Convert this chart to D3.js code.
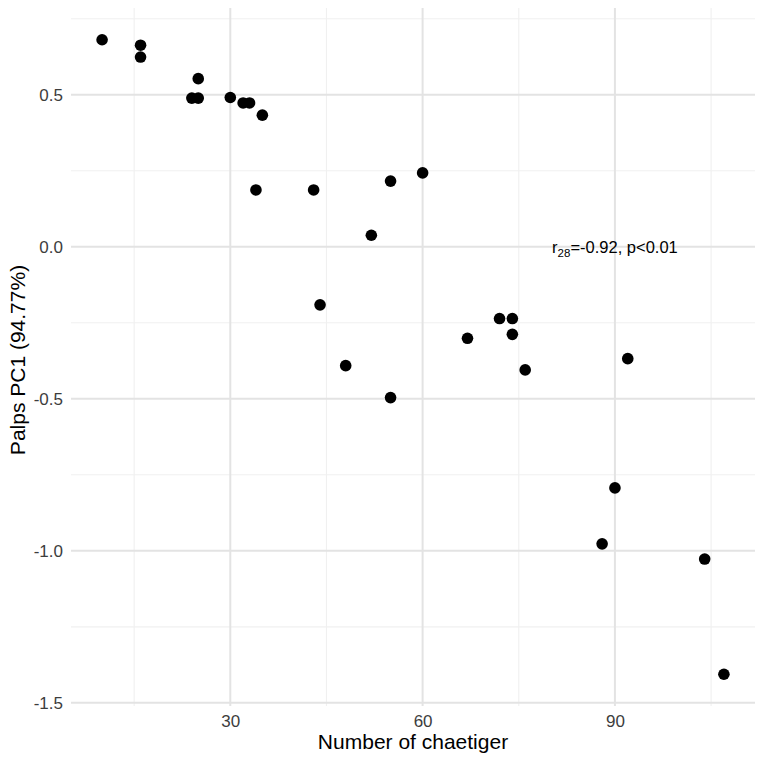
<!DOCTYPE html>
<html lang="en">
<head>
    <meta charset="UTF-8">
    <title>Palps PC1 vs chaetiger</title>
    <script src="https://cdn.jsdelivr.net/npm/d3@7"></script>
    <style>
        body { margin: 0; background: white; }
        svg { display: block; font-family: "Liberation Sans", Arial, sans-serif; }
    </style>
</head>
<body>
    <svg id="chart" width="763" height="763"></svg>
    <script>
        // chaetiger counts and palps PC1 scores
        const chaetiger = [10, 16, 16, 25, 24, 25, 30, 32, 33, 35, 34, 43, 55, 60, 52,
            44, 67, 48, 55, 72, 74, 74, 76, 92, 90, 88, 104, 107];
        const palpsPC1 = [0.681, 0.663, 0.624, 0.553, 0.489, 0.489, 0.491, 0.473, 0.473, 0.433, 0.187, 0.187, 0.216, 0.243, 0.038,
            -0.191, -0.301, -0.391, -0.496, -0.236, -0.236, -0.288, -0.405, -0.368, -0.793, -0.977, -1.027, -1.406];
        const xTicks = [30, 60, 90];
        const xMinor = [15, 45, 75, 105];
        const yTicks = [-1.5, -1.0, -0.5, 0.0, 0.5];
        const yMinor = [-1.25, -0.75, -0.25, 0.25, 0.75];

        const points = chaetiger.map((d, i) => ({ x: d, y: palpsPC1[i] }));

        const svg = d3.select("#chart");
        const panel = { left: 71, right: 755, top: 8, bottom: 706 };

        // ggplot-style 5% expansion
        function expand(ext) {
            const pad = (ext[1] - ext[0]) * 0.05;
            return [ext[0] - pad, ext[1] + pad];
        }

        const x = d3.scaleLinear()
            .domain(expand(d3.extent(chaetiger)))
            .range([panel.left, panel.right]);
        const y = d3.scaleLinear()
            .domain(expand(d3.extent(palpsPC1)))
            .range([panel.bottom, panel.top]);

        const grid = svg.append("g");

        grid.selectAll(".vminor")
            .data(xMinor.filter(d => x(d) >= panel.left && x(d) <= panel.right))
            .enter().append("line")
            .attr("x1", d => x(d)).attr("x2", d => x(d))
            .attr("y1", panel.top).attr("y2", panel.bottom)
            .attr("stroke", "#f0f0f0").attr("stroke-width", 1.1);

        grid.selectAll(".hminor")
            .data(yMinor.filter(d => y(d) >= panel.top && y(d) <= panel.bottom))
            .enter().append("line")
            .attr("x1", panel.left).attr("x2", panel.right)
            .attr("y1", d => y(d)).attr("y2", d => y(d))
            .attr("stroke", "#f0f0f0").attr("stroke-width", 1.1);

        grid.selectAll(".vmajor")
            .data(xTicks)
            .enter().append("line")
            .attr("x1", d => x(d)).attr("x2", d => x(d))
            .attr("y1", panel.top).attr("y2", panel.bottom)
            .attr("stroke", "#e3e3e3").attr("stroke-width", 2);

        grid.selectAll(".hmajor")
            .data(yTicks)
            .enter().append("line")
            .attr("x1", panel.left).attr("x2", panel.right)
            .attr("y1", d => y(d)).attr("y2", d => y(d))
            .attr("stroke", "#e3e3e3").attr("stroke-width", 2);

        // axes (text only, like theme_minimal); plain hyphen for negatives
        const fmtY = d => d3.format(".1f")(d).replace("\u2212", "-");
        const xAxis = svg.append("g")
            .attr("transform", `translate(0,${panel.bottom})`)
            .call(d3.axisBottom(x).tickValues(xTicks).tickSize(0).tickPadding(9).tickFormat(d3.format("d")));
        const yAxis = svg.append("g")
            .attr("transform", `translate(${panel.left},0)`)
            .call(d3.axisLeft(y).tickValues(yTicks).tickSize(0).tickPadding(8).tickFormat(fmtY));

        [xAxis, yAxis].forEach(a => {
            a.select(".domain").remove();
            a.selectAll("text")
                .attr("fill", "#3d3d3d")
                .style("font-size", "17px")
                .style("font-family", "'Liberation Sans', Arial, sans-serif");
        });
        xAxis.selectAll("text").attr("dy", "0.71em");

        svg.append("g").selectAll("circle")
            .data(points)
            .enter().append("circle")
            .attr("cx", d => x(d.x))
            .attr("cy", d => y(d.y))
            .attr("r", 5.8)
            .attr("fill", "black");

        // correlation label
        const label = svg.append("text")
            .attr("x", x(90))
            .attr("y", y(0))
            .attr("dy", "0.35em")
            .attr("text-anchor", "middle")
            .style("font-size", "16.5px")
            .attr("fill", "black");
        label.append("tspan").text("r");
        label.append("tspan").attr("dy", "4").style("font-size", "11.5px").text("28");
        label.append("tspan").attr("dy", "-4").text("=-0.92, p<0.01");

        svg.append("text")
            .attr("x", (panel.left + panel.right) / 2)
            .attr("y", 749)
            .attr("text-anchor", "middle")
            .style("font-size", "21px")
            .attr("fill", "black")
            .text("Number of chaetiger");

        svg.append("text")
            .attr("transform", `translate(25,${(panel.top + panel.bottom) / 2 + 3}) rotate(-90)`)
            .attr("text-anchor", "middle")
            .style("font-size", "21px")
            .attr("fill", "black")
            .text("Palps PC1 (94.77%)");
    </script>
</body>
</html>
